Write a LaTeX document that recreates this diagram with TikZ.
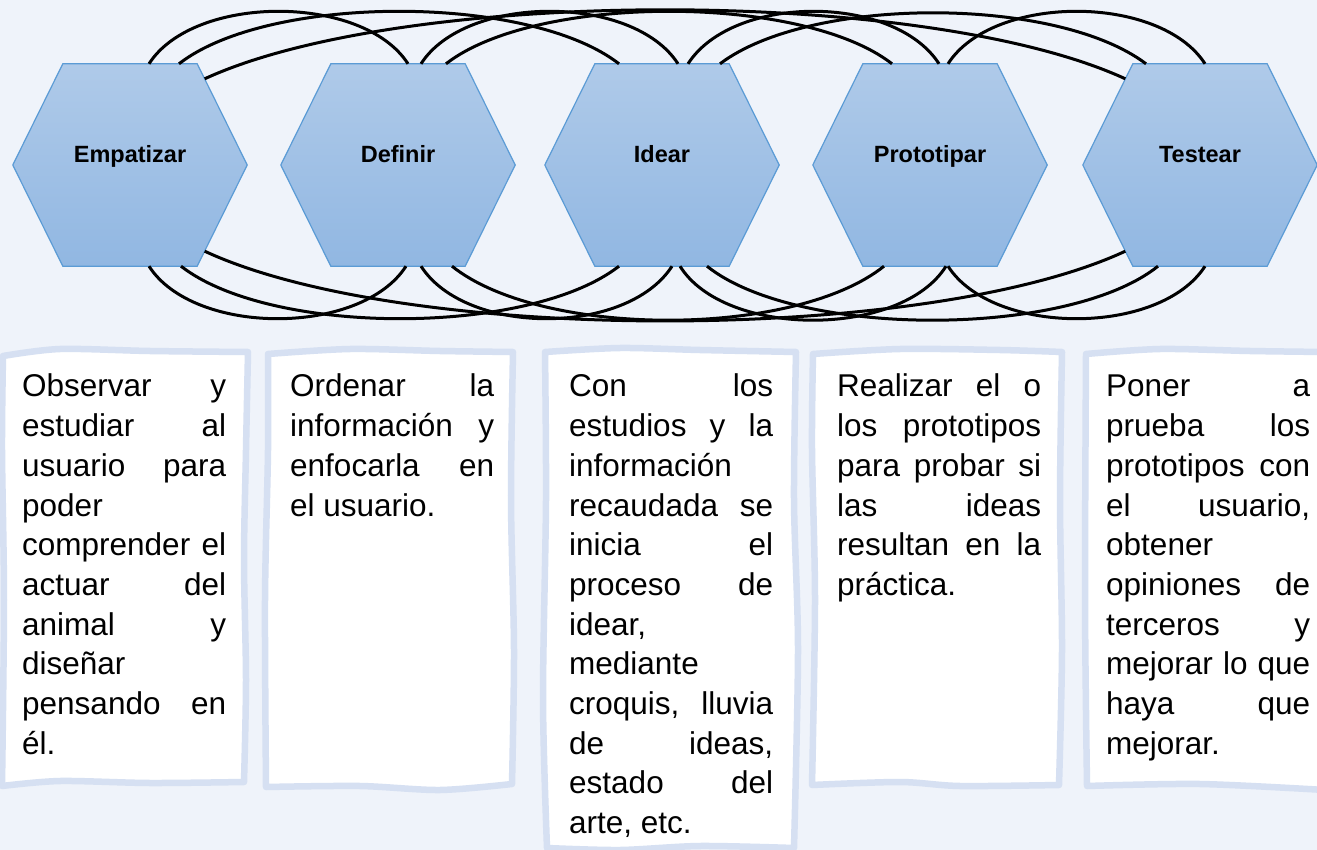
\documentclass[tikz,border=0pt]{standalone}
\usepackage{fontspec}
\setmainfont{Liberation Sans}
\usetikzlibrary{calc}
\pgfdeclarelayer{back}
\pgfdeclarelayer{hexes}
\pgfsetlayers{back,hexes,main}
\definecolor{bg}{HTML}{EFF3FA}
\definecolor{hextop}{HTML}{AFCAE9}
\definecolor{hexbot}{HTML}{91B7E2}
\definecolor{hexline}{HTML}{5B9BD5}
\definecolor{boxline}{HTML}{D6E0F2}
\tikzset{
  hexnode/.style={minimum width=234pt, minimum height=202pt, inner sep=0pt,
    font=\fontsize{23.5pt}{28pt}\selectfont\bfseries, text height=10pt, text depth=14pt},
  hexshape/.style={draw=hexline, line width=1.2pt, top color=hextop, bottom color=hexbot},
  arcline/.style={draw=black, line width=3pt},
  wobbly/.style={draw=boxline, line width=6.5pt, fill=white, line join=round},
  desc/.style={anchor=north west, inner sep=0pt, text width=204pt, align=justify,
    font=\fontsize{31.5pt}{39.7pt}\selectfont},
}
\newcommand{\hexpath}[1]{%
  \path[hexshape] (#1.west) -- ($(#1.north west)+(50,0)$) -- ($(#1.north east)+(-50,0)$)
    -- (#1.east) -- ($(#1.south east)+(-50,0)$) -- ($(#1.south west)+(50,0)$) -- cycle;}
\begin{document}
\begin{tikzpicture}[x=1pt,y=-1pt]
\useasboundingbox (0,0) rectangle (1317,850);
\begin{pgfonlayer}{back}
  \fill[bg] (0,0) rectangle (1317,850);
\end{pgfonlayer}

% hexagon nodes
\node[hexnode] (h1) at (130,165) {Empatizar};
\node[hexnode] (h2) at (398,165) {Definir};
\node[hexnode] (h3) at (662,165) {Idear};
\node[hexnode] (h4) at (930,165) {Prototipar};
\node[hexnode] (h5) at (1200,165) {Testear};
\begin{pgfonlayer}{hexes}
  \hexpath{h1}\hexpath{h2}\hexpath{h3}\hexpath{h4}\hexpath{h5}
\end{pgfonlayer}

% top arcs
\draw[arcline] ($(h1.north)+(19,0)$) .. controls +(45,-70) and +(-45,-70) .. ($(h2.north)+(10,0)$);
\draw[arcline] ($(h1.north)+(49,0)$) .. controls +(90,-70) and +(-90,-70) .. ($(h3.north)+(-43,0)$);
\draw[arcline] ($(h1.north east)+(-42.5,15)$) .. controls +(200,-92) and +(-200,-92) .. ($(h5.north west)+(42.5,15)$);
\draw[arcline] ($(h2.north)+(23,0)$) .. controls +(45,-70) and +(-45,-70) .. ($(h3.north)+(16,0)$);
\draw[arcline] ($(h2.north)+(48,0)$) .. controls +(90,-70) and +(-90,-70) .. ($(h4.north)+(-38,0)$);
\draw[arcline] ($(h3.north)+(26,0)$) .. controls +(45,-70) and +(-45,-70) .. ($(h4.north)+(9,0)$);
\draw[arcline] ($(h3.north)+(58,0)$) .. controls +(90,-68) and +(-90,-68) .. ($(h5.north)+(-54,0)$);
\draw[arcline] ($(h4.north)+(18,0)$) .. controls +(45,-70) and +(-45,-70) .. ($(h5.north)+(5,0)$);

% bottom arcs
\draw[arcline] ($(h1.south)+(19,0)$) .. controls +(45,70) and +(-45,70) .. ($(h2.south)+(8,0)$);
\draw[arcline] ($(h1.south)+(51,0)$) .. controls +(90,70) and +(-90,70) .. ($(h3.south)+(-43,0)$);
\draw[arcline] ($(h1.south east)+(-42.5,-15)$) .. controls +(200,93) and +(-200,93) .. ($(h5.south west)+(42.5,-15)$);
\draw[arcline] ($(h2.south)+(23,0)$) .. controls +(45,70) and +(-45,70) .. ($(h3.south)+(10,0)$);
\draw[arcline] ($(h2.south)+(54,0)$) .. controls +(90,72) and +(-90,72) .. ($(h4.south)+(-46,0)$);
\draw[arcline] ($(h3.south)+(18,0)$) .. controls +(45,72) and +(-45,72) .. ($(h4.south)+(16,0)$);
\draw[arcline] ($(h3.south)+(45,0)$) .. controls +(90,72) and +(-90,72) .. ($(h5.south)+(-42,0)$);
\draw[arcline] ($(h4.south)+(18,0)$) .. controls +(45,70) and +(-45,70) .. ($(h5.south)+(5,0)$);

% wobbly boxes
\filldraw[wobbly] plot[smooth] coordinates {(3,356) (60,349) (150,351) (248,352)}
  -- plot[smooth] coordinates {(248,352) (246,450) (244,560) (246,680) (244,782)}
  -- plot[smooth] coordinates {(244,782) (150,783) (60,781) (2,786)}
  -- plot[smooth] coordinates {(2,786) (4,600) (2,450) (3,356)} -- cycle;
\filldraw[wobbly] plot[smooth] coordinates {(268,354) (350,349) (440,351) (513,352)}
  -- plot[smooth] coordinates {(513,352) (511,500) (514,650) (512,784)}
  -- plot[smooth] coordinates {(512,784) (440,790) (360,786) (266,787)}
  -- plot[smooth] coordinates {(266,787) (265,600) (268,450) (268,354)} -- cycle;
\filldraw[wobbly] plot[smooth] coordinates {(545,352) (620,348) (700,350) (796,352)}
  -- plot[smooth] coordinates {(796,352) (794,500) (798,650) (794,848)}
  -- plot[smooth] coordinates {(794,848) (700,846) (620,850) (547,848)}
  -- plot[smooth] coordinates {(547,848) (543,700) (546,500) (545,352)} -- cycle;
\filldraw[wobbly] plot[smooth] coordinates {(813,354) (900,349) (1000,350) (1062,352)}
  -- plot[smooth] coordinates {(1062,352) (1060,500) (1062,650) (1059,785)}
  -- plot[smooth] coordinates {(1059,785) (960,786) (900,782) (812,785)}
  -- plot[smooth] coordinates {(812,785) (815,600) (812,450) (813,354)} -- cycle;
\filldraw[wobbly] plot[smooth] coordinates {(1086,354) (1160,349) (1250,351) (1325,352)}
  -- (1325,790)
  -- plot[smooth] coordinates {(1325,790) (1200,784) (1087,786)}
  -- plot[smooth] coordinates {(1087,786) (1085,600) (1086,354)} -- cycle;

% descriptions
\node[desc] (t1) at (22,369) {\strut Observar y\linebreak estudiar al\linebreak usuario para\linebreak poder\linebreak comprender el\linebreak actuar del\linebreak animal y\linebreak diseñar\linebreak pensando en\linebreak él.};
\node[desc] (t2) at (290,369) {\strut Ordenar la\linebreak información y\linebreak enfocarla en\linebreak el usuario.};
\node[desc] (t3) at (569,369) {\strut Con los\linebreak estudios y la\linebreak información\linebreak recaudada se\linebreak inicia el\linebreak proceso de\linebreak idear,\linebreak mediante\linebreak croquis, lluvia\linebreak de ideas,\linebreak estado del\linebreak arte, etc.};
\node[desc] (t4) at (837,369) {\strut Realizar el o\linebreak los prototipos\linebreak para probar si\linebreak las ideas\linebreak resultan en la\linebreak práctica.};
\node[desc] (t5) at (1106,369) {\strut Poner a\linebreak prueba los\linebreak prototipos con\linebreak el usuario,\linebreak obtener\linebreak opiniones de\linebreak terceros y\linebreak mejorar lo que\linebreak haya que\linebreak mejorar.};
\end{tikzpicture}
\end{document}
